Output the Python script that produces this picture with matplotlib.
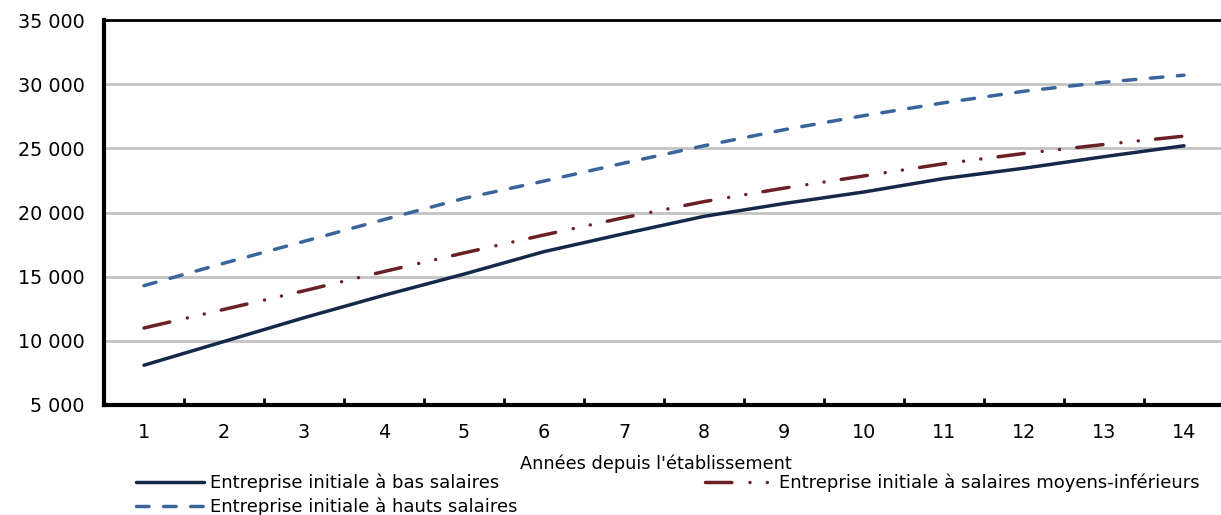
import matplotlib
matplotlib.use("Agg")
import matplotlib.pyplot as plt
from matplotlib.ticker import FixedLocator, FuncFormatter

plt.rcParams['font.family'] = ['DejaVu Sans']

years = list(range(1, 15))
low_wage = [8100, 9950, 11800, 13550, 15200, 16950, 18350, 19700, 20700, 21600, 22650, 23450, 24350, 25200]
lower_mid_wage = [11000, 12450, 13900, 15400, 16850, 18250, 19600, 20850, 21900, 22850, 23800, 24600, 25300, 25950]
high_wage = [14300, 16050, 17750, 19450, 21100, 22450, 23850, 25200, 26450, 27550, 28550, 29450, 30150, 30700]

labels = ["Entreprise initiale à bas salaires",
          "Entreprise initiale à salaires moyens-inférieurs",
          "Entreprise initiale à hauts salaires"]
y_ticks = [5000, 10000, 15000, 20000, 25000, 30000, 35000]

W, H = 1221, 515
fig = plt.figure(figsize=(W / 100, H / 100), dpi=100)
ax = fig.add_axes([104 / W, (H - 405) / H, 1120 / W, 385 / H])

lw = 2.5
l_low, = ax.plot(years, low_wage, color="#14294A", lw=lw, solid_capstyle="round")
l_mid, = ax.plot(years, lower_mid_wage, color="#6A2024", lw=lw,
                 dashes=(7.6, 5.2, 0.01, 5.0, 0.01, 5.0), dash_capstyle="round")
l_high, = ax.plot(years, high_wage, color="#3A659A", lw=lw,
                  dashes=(3.6, 4.2), dash_capstyle="round")

ax.set_xlim(0.5, 14.5)
ax.set_ylim(5000, 35000)
ax.yaxis.set_major_locator(FixedLocator(y_ticks))
ax.yaxis.set_major_formatter(FuncFormatter(lambda v, p: f"{int(v):,}".replace(",", " ")))
ax.set_xticks(years)
ax.set_xticks([y + 0.5 for y in years[:-1]], minor=True)
ax.tick_params(axis="x", which="major", length=0, pad=13, labelsize=13.8, colors="#000000")
ax.tick_params(axis="x", which="minor", direction="in", length=5, width=2, color="black")
ax.tick_params(axis="y", which="major", length=0, pad=14, labelsize=13.8)

ax.grid(axis="y", color="#C3C3C3", lw=2)
ax.set_axisbelow(True)
for side in ("left", "bottom"):
    ax.spines[side].set_linewidth(3)
    ax.spines[side].set_color("black")
ax.spines["top"].set_linewidth(2)
ax.spines["top"].set_color("black")
ax.spines["right"].set_visible(False)

fig.text(656 / W, 1 - 464 / H, "Années depuis l'établissement", ha="center", va="center", fontsize=12.8)

leg_kw = dict(frameon=False, fontsize=13, handlelength=3.75, handletextpad=0.35,
              labelspacing=0.3, borderpad=0, borderaxespad=0)
leg1 = fig.legend([l_low, l_high], [labels[0], labels[2]], loc="upper left",
                  bbox_to_anchor=(136 / W, 1 - 474 / H), **leg_kw)
leg2 = fig.legend([l_mid], [labels[1]], loc="upper left",
                  bbox_to_anchor=(705 / W, 1 - 474 / H), **leg_kw)

fig.savefig("out.png", dpi=100)
